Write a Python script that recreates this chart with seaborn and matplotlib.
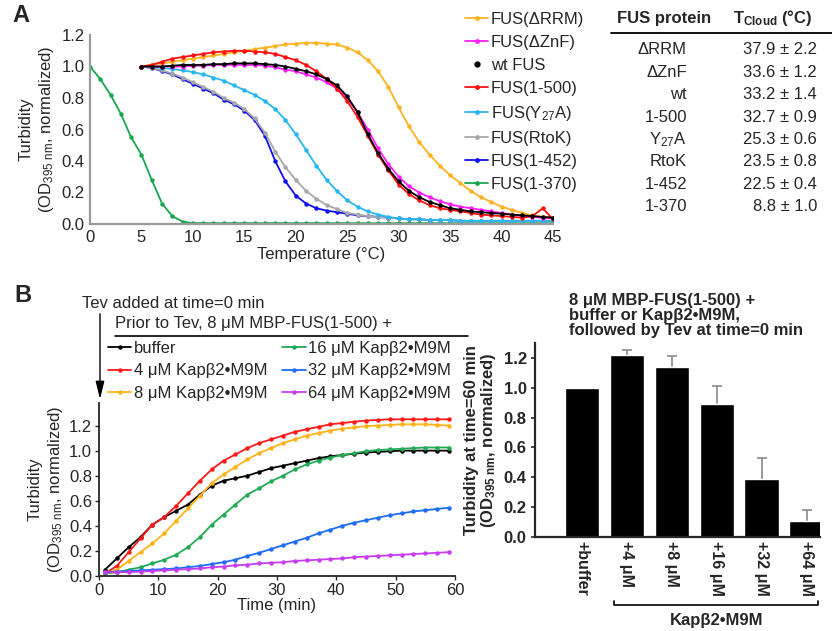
import matplotlib
matplotlib.use('Agg')
import matplotlib.pyplot as plt
import seaborn as sns
import pandas as pd
from matplotlib.lines import Line2D

# ---- panel A: turbidity vs temperature ----
temp_all = list(range(0, 46))
temp = list(range(5, 46))

fus_drrm = [1.0, 1.01, 1.02, 1.03, 1.04, 1.05, 1.06, 1.07, 1.08, 1.09,
            1.10, 1.11, 1.12, 1.13, 1.14, 1.145, 1.15, 1.15, 1.145, 1.14,
            1.12, 1.09, 1.04, 0.97, 0.87, 0.74, 0.62, 0.52, 0.44, 0.37,
            0.31, 0.26, 0.21, 0.17, 0.14, 0.11, 0.09, 0.07, 0.055, 0.045, 0.04]
fus_dznf = [1.0, 1.0, 1.0, 1.0, 1.0, 1.005, 1.005, 1.01, 1.01, 1.01,
            1.01, 1.01, 1.005, 0.995, 0.98, 0.97, 0.95, 0.93, 0.90, 0.86,
            0.80, 0.71, 0.60, 0.48, 0.38, 0.30, 0.24, 0.20, 0.17, 0.145,
            0.125, 0.11, 0.10, 0.09, 0.08, 0.07, 0.06, 0.05, 0.045, 0.04, 0.035]
fus_wt = [1.0, 1.0, 1.0, 1.005, 1.01, 1.01, 1.01, 1.015, 1.015, 1.02,
          1.02, 1.02, 1.015, 1.01, 1.0, 0.985, 0.97, 0.95, 0.92, 0.88,
          0.81, 0.71, 0.57, 0.45, 0.35, 0.27, 0.21, 0.17, 0.14, 0.12,
          0.10, 0.09, 0.08, 0.075, 0.07, 0.065, 0.06, 0.055, 0.05, 0.045, 0.04]
fus_1_500 = [1.0, 1.01, 1.03, 1.05, 1.06, 1.07, 1.08, 1.09, 1.095, 1.10,
             1.10, 1.095, 1.09, 1.08, 1.06, 1.04, 1.01, 0.97, 0.92, 0.86,
             0.78, 0.68, 0.56, 0.44, 0.34, 0.25, 0.19, 0.15, 0.12, 0.10,
             0.09, 0.08, 0.07, 0.06, 0.055, 0.05, 0.045, 0.04, 0.05, 0.10, 0.03]
fus_y27a = [1.0, 1.0, 0.99, 0.985, 0.975, 0.965, 0.95, 0.93, 0.91, 0.88,
            0.85, 0.82, 0.78, 0.73, 0.66, 0.57, 0.47, 0.37, 0.28, 0.21,
            0.15, 0.11, 0.08, 0.06, 0.045, 0.035, 0.03, 0.03, 0.025, 0.025,
            0.025, 0.02, 0.02, 0.02, 0.02, 0.02, 0.02, 0.02, 0.02, 0.02, 0.02]
fus_rtok = [1.0, 0.99, 0.975, 0.955, 0.93, 0.90, 0.87, 0.84, 0.80, 0.77,
            0.73, 0.67, 0.58, 0.46, 0.36, 0.28, 0.21, 0.16, 0.12, 0.095,
            0.07, 0.06, 0.05, 0.045, 0.04, 0.035, 0.03, 0.03, 0.025, 0.025,
            0.025, 0.02, 0.02, 0.02, 0.02, 0.02, 0.02, 0.02, 0.02, 0.02, 0.02]
fus_1_452 = [1.0, 0.99, 0.97, 0.95, 0.92, 0.89, 0.86, 0.83, 0.79, 0.76,
             0.72, 0.66, 0.56, 0.40, 0.27, 0.18, 0.13, 0.10, 0.085, 0.075,
             0.065, 0.055, 0.05, 0.045, 0.04, 0.035, 0.03, 0.03, 0.025, 0.025,
             0.025, 0.02, 0.02, 0.02, 0.02, 0.02, 0.02, 0.02, 0.02, 0.02, 0.02]
fus_1_370 = [1.0, 0.92, 0.82, 0.70, 0.55, 0.44, 0.28, 0.13, 0.05, 0.015,
             0.005, 0.005, 0.005, 0.005, 0.005, 0.005, 0.005, 0.005, 0.005, 0.005,
             0.005, 0.005, 0.005, 0.005, 0.005, 0.005, 0.005, 0.005, 0.005, 0.005,
             0.005, 0.005, 0.005, 0.005, 0.005, 0.005, 0.005, 0.005, 0.005, 0.005,
             0.005, 0.005, 0.005, 0.005, 0.005, 0.005]

table_names = ['ΔRRM', 'ΔZnF', 'wt', '1-500', 'Y$_{27}$A', 'RtoK', '1-452', '1-370']
table_tcloud = ['37.9 ± 2.2', '33.6 ± 1.2', '33.2 ± 1.4', '32.7 ± 0.9',
                '25.3 ± 0.6', '23.5 ± 0.8', '22.5 ± 0.4', '8.8 ± 1.0']

# ---- panel B: turbidity vs time after Tev ----
time_min = [1, 3, 5, 7, 9, 11, 13, 15, 17, 19, 21, 23, 25, 27, 29,
            31, 33, 35, 37, 39, 41, 43, 45, 47, 49, 51, 53, 55, 57, 59]
kap_buffer = [0.05, 0.14, 0.23, 0.31, 0.41, 0.47, 0.52, 0.57, 0.65, 0.72,
              0.76, 0.78, 0.80, 0.83, 0.86, 0.88, 0.90, 0.92, 0.94, 0.955,
              0.965, 0.975, 0.985, 0.99, 0.995, 1.0, 1.0, 1.0, 1.0, 1.0]
kap_4 = [0.02, 0.08, 0.19, 0.30, 0.41, 0.47, 0.56, 0.66, 0.76, 0.85,
         0.92, 0.97, 1.02, 1.06, 1.09, 1.12, 1.15, 1.17, 1.19, 1.21,
         1.22, 1.23, 1.24, 1.245, 1.25, 1.25, 1.25, 1.25, 1.25, 1.25]
kap_8 = [0.02, 0.05, 0.12, 0.19, 0.26, 0.34, 0.44, 0.54, 0.64, 0.74,
         0.81, 0.87, 0.93, 0.98, 1.02, 1.06, 1.09, 1.12, 1.14, 1.16,
         1.175, 1.185, 1.195, 1.2, 1.205, 1.21, 1.21, 1.21, 1.205, 1.2]
kap_16 = [0.02, 0.03, 0.05, 0.07, 0.10, 0.13, 0.17, 0.23, 0.31, 0.41,
          0.49, 0.57, 0.65, 0.70, 0.755, 0.80, 0.85, 0.89, 0.92, 0.945,
          0.965, 0.98, 0.995, 1.005, 1.01, 1.015, 1.02, 1.025, 1.025, 1.025]
kap_32 = [0.03, 0.035, 0.04, 0.045, 0.05, 0.055, 0.06, 0.07, 0.08, 0.095,
          0.11, 0.13, 0.16, 0.185, 0.215, 0.245, 0.275, 0.305, 0.34, 0.37,
          0.40, 0.425, 0.445, 0.465, 0.485, 0.50, 0.515, 0.525, 0.535, 0.545]
kap_64 = [0.03, 0.03, 0.03, 0.035, 0.04, 0.045, 0.05, 0.055, 0.06, 0.07,
          0.075, 0.085, 0.09, 0.10, 0.105, 0.11, 0.12, 0.125, 0.13, 0.135,
          0.14, 0.15, 0.155, 0.16, 0.165, 0.17, 0.175, 0.18, 0.185, 0.19]

bar_labels = ['+buffer', '+4 μM', '+8 μM', '+16 μM', '+32 μM', '+64 μM']
bar_values = [1.0, 1.22, 1.14, 0.89, 0.39, 0.11]
bar_errors = [0.0, 0.03, 0.07, 0.12, 0.14, 0.07]

sns.set_style('ticks')
plt.rcParams['font.family'] = ['Liberation Sans', 'DejaVu Sans']
plt.rcParams['mathtext.default'] = 'regular'
plt.rcParams['font.size'] = 12

W, H = 832, 631


def fx(px):
    return px / W


def fy(py):
    return 1 - py / H


fig = plt.figure(figsize=(8.32, 6.31), dpi=100)

# ---------------- panel A ----------------
axA = fig.add_axes([fx(90), fy(224), 463 / W, 189 / H])
seriesA = [
    ('FUS(1-370)', temp_all, fus_1_370, '#1aa64f'),
    ('FUS(1-452)', temp, fus_1_452, '#1010f0'),
    ('FUS(RtoK)', temp, fus_rtok, '#a8a8a8'),
    ('FUS(Y$_{27}$A)', temp, fus_y27a, '#2ab6ee'),
    ('FUS(ΔRRM)', temp, fus_drrm, '#fbb323'),
    ('FUS(ΔZnF)', temp, fus_dznf, '#ff1fff'),
    ('FUS(1-500)', temp, fus_1_500, '#ff1010'),
    ('wt FUS', temp, fus_wt, '#000000'),
]
for name, x, y, c in seriesA:
    sns.lineplot(x=x, y=y, ax=axA, color=c, marker='o', markersize=3.2,
                 markeredgewidth=0, linewidth=1.3)
axA.set_xlim(0, 45)
axA.set_ylim(0, 1.2)
axA.set_xticks(range(0, 46, 5))
axA.set_yticks([0.0, 0.2, 0.4, 0.6, 0.8, 1.0, 1.2])
axA.set_yticklabels(['0.0', '0.2', '0.4', '0.6', '0.8', '1.0', '1.2'])
axA.set_xlabel('Temperature (°C)', fontsize=12, labelpad=2)
axA.set_ylabel('Turbidity\n(OD$_{395\\ nm}$, normalized)', fontsize=12, labelpad=4)
sns.despine(ax=axA)
for s in ['left', 'bottom']:
    axA.spines[s].set_color('#9a9a9a')
    axA.spines[s].set_linewidth(1.6)
axA.tick_params(length=0, pad=4, labelsize=12)

colA = {n: c for n, _, _, c in seriesA}
orderA = ['FUS(ΔRRM)', 'FUS(ΔZnF)', 'wt FUS', 'FUS(1-500)', 'FUS(Y$_{27}$A)',
          'FUS(RtoK)', 'FUS(1-452)', 'FUS(1-370)']
handlesA = []
for n in orderA:
    if n == 'wt FUS':
        handlesA.append(Line2D([], [], color='black', marker='o', markersize=3.5,
                               linestyle='none'))
    else:
        handlesA.append(Line2D([], [], color=colA[n], marker='o', markersize=3.5,
                               markeredgewidth=0, linewidth=1.3))
fig.legend(handlesA, orderA, loc='upper left', bbox_to_anchor=(fx(465), fy(12)),
           frameon=False, fontsize=12, handlelength=1.4, handletextpad=0.15,
           labelspacing=0.48, borderpad=0, borderaxespad=0)

# table
fig.text(fx(617), fy(18), 'FUS protein', fontsize=12, fontweight='bold',
         ha='left', va='center')
fig.text(fx(733), fy(18), 'T$_{Cloud}$ (°C)', fontsize=12, fontweight='bold',
         ha='left', va='center')
fig.add_artist(Line2D([fx(611), fx(832)], [fy(33), fy(33)], color='black', lw=1.3))
for i, (n, t) in enumerate(zip(table_names, table_tcloud)):
    yy = fy(50 + i * 22.4)
    fig.text(fx(687), yy, n, fontsize=12, ha='right', va='center')
    fig.text(fx(817), yy, t, fontsize=12, ha='right', va='center')

fig.text(fx(12), fy(16), 'A', fontsize=17, fontweight='bold', ha='left', va='center')

# ---------------- panel B (lines) ----------------
axB = fig.add_axes([fx(99), fy(576), 356 / W, 173 / H])
seriesB = [
    ('buffer', kap_buffer, '#000000'),
    ('4 μM Kapβ2•M9M', kap_4, '#ff1a1a'),
    ('8 μM Kapβ2•M9M', kap_8, '#ffb31a'),
    ('16 μM Kapβ2•M9M', kap_16, '#22aa55'),
    ('32 μM Kapβ2•M9M', kap_32, '#1f6cf5'),
    ('64 μM Kapβ2•M9M', kap_64, '#c83cf0'),
]
for name, y, c in seriesB:
    sns.lineplot(x=time_min, y=y, ax=axB, color=c, marker='o', markersize=3.2,
                 markeredgewidth=0, linewidth=1.3, label=name)
axB.set_xlim(0, 60)
axB.set_ylim(0, 1.38)
axB.set_xticks(range(0, 61, 10))
axB.set_yticks([0.0, 0.2, 0.4, 0.6, 0.8, 1.0, 1.2])
axB.set_yticklabels(['0.0', '0.2', '0.4', '0.6', '0.8', '1.0', '1.2'])
axB.set_xlabel('Time (min)', fontsize=12, labelpad=0)
axB.set_ylabel('Turbidity\n(OD$_{395\\ nm}$, normalized)', fontsize=12, labelpad=3)
sns.despine(ax=axB)
for s in ['left', 'bottom']:
    axB.spines[s].set_linewidth(1.3)
axB.tick_params(length=3, width=1, pad=2, labelsize=12)
hB, lB = axB.get_legend_handles_labels()
axB.get_legend().remove()
fig.legend(hB, lB, loc='upper left', bbox_to_anchor=(fx(108), fy(341)), ncol=2,
           frameon=False, fontsize=12, handlelength=1.4, handletextpad=0.15,
           labelspacing=0.45, columnspacing=0.9, borderpad=0, borderaxespad=0)

fig.text(fx(82), fy(303), 'Tev added at time=0 min', fontsize=12, ha='left', va='center')
fig.text(fx(115), fy(324), 'Prior to Tev, 8 μM MBP-FUS(1-500) +', fontsize=12,
         ha='left', va='center')
fig.add_artist(Line2D([fx(115), fx(468)], [fy(336), fy(336)], color='black', lw=1.2))
axB.annotate('', xy=(fx(100), fy(402)), xytext=(fx(100), fy(311)),
             xycoords='figure fraction', textcoords='figure fraction',
             arrowprops=dict(arrowstyle='-|>,head_length=0.9,head_width=0.22',
                             color='black', lw=1.0))
fig.text(fx(14), fy(296), 'B', fontsize=17, fontweight='bold', ha='left', va='center')

# ---------------- panel B (bars) ----------------
axC = fig.add_axes([fx(535), fy(537), 285 / W, 194 / H])
bars = pd.DataFrame({'cond': bar_labels, 'value': bar_values})
sns.barplot(data=bars, x='cond', y='value', ax=axC, color='black', width=0.76,
            errorbar=None, saturation=1, zorder=2)
axC.errorbar(range(1, len(bar_labels)), bar_values[1:],
             yerr=bar_errors[1:], fmt='none',
             ecolor='#8a8a8a', elinewidth=1.2, capsize=3.5, capthick=1.2, zorder=1)
axC.set_xlim(-1.04, 5.3)
axC.set_ylim(0, 1.3)
axC.set_yticks([0.0, 0.2, 0.4, 0.6, 0.8, 1.0, 1.2])
axC.set_yticklabels(['0.0', '0.2', '0.4', '0.6', '0.8', '1.0', '1.2'],
                    fontweight='bold')
axC.set_xticks(range(len(bar_labels)))
axC.set_xticklabels(bar_labels, rotation=270, fontweight='bold', fontsize=11.5)
axC.set_xlabel('')
axC.set_ylabel('Turbidity at time=60 min\n(OD$_{395\\ nm}$, normalized)',
               fontsize=12, fontweight='bold', labelpad=4, linespacing=1.0)
sns.despine(ax=axC)
for s in ['left', 'bottom']:
    axC.spines[s].set_linewidth(1.6)
    axC.spines[s].set_zorder(3)
axC.tick_params(axis='y', length=3, width=1.2, pad=3, labelsize=12)
axC.tick_params(axis='x', length=0, pad=3)
axC.set_title('8 μM MBP-FUS(1-500) +\nbuffer or Kapβ2•M9M,\nfollowed by Tev at time=0 min',
              fontsize=12, fontweight='bold', loc='left', x=0.12, y=1.0,
              pad=6, linespacing=1.0)

# brace under the Kap conditions
tr = axC.get_xaxis_transform()
axC.plot([0.72, 0.72, 5.26, 5.26], [-0.33, -0.35, -0.35, -0.33], transform=tr,
         color='black', lw=1.2, clip_on=False)
axC.text(2.99, -0.43, 'Kapβ2•M9M', transform=tr, fontsize=12, fontweight='bold',
         ha='center', va='center')

fig.savefig('out.png', dpi=100)
